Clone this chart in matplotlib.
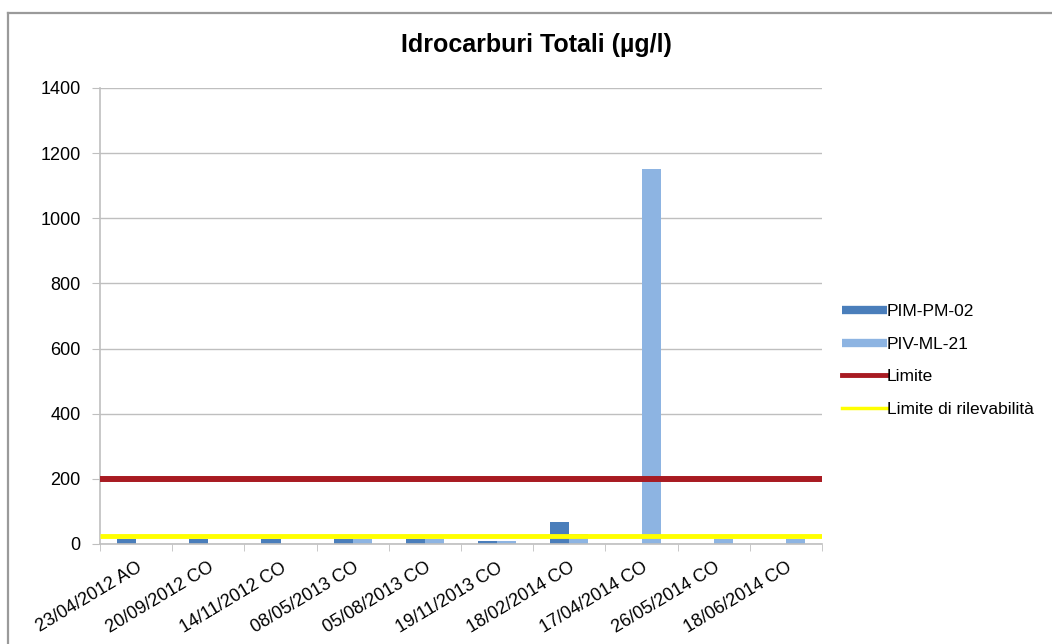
import numpy as np
import matplotlib
matplotlib.use("Agg")
import matplotlib.pyplot as plt
from matplotlib.lines import Line2D

plt.rcParams["font.family"] = ["Liberation Sans", "DejaVu Sans"]

# data
dates = ["23/04/2012 AO", "20/09/2012 CO", "14/11/2012 CO", "08/05/2013 CO",
         "05/08/2013 CO", "19/11/2013 CO", "18/02/2014 CO", "17/04/2014 CO",
         "26/05/2014 CO", "18/06/2014 CO"]
pim_pm_02 = [15, 15, 15, 15, 15, 8, 68, np.nan, np.nan, np.nan]
piv_ml_21 = [np.nan, np.nan, np.nan, 15, 15, 8, 30, 1150, 15, 15]
limite = 200
limite_rilev = 25

C_DARK = "#4A7EBB"
C_LIGHT = "#8DB4E2"
C_RED = "#A81B22"
C_YEL = "#FFFF00"
C_GRID = "#BFBFBF"

fig = plt.figure(figsize=(10.52, 6.44), dpi=100)
ax = fig.add_axes([100 / 1052, 1 - 544 / 644, 722 / 1052, 456 / 644])

x = np.arange(len(dates))
w = 0.265
ax.bar(x - w / 2, pim_pm_02, width=w, color=C_DARK, zorder=2)
ax.bar(x + w / 2, piv_ml_21, width=w, color=C_LIGHT, zorder=2)
ax.axhline(limite, color=C_RED, lw=4.3, zorder=3, solid_capstyle="butt")
ax.axhline(limite_rilev, color=C_YEL, lw=3.5, zorder=3, solid_capstyle="butt")

ax.set_xlim(-0.5, len(dates) - 0.5)
ax.set_ylim(0, 1400)
ax.set_yticks(np.arange(0, 1401, 200))
ax.yaxis.grid(True, color=C_GRID, lw=1)
ax.set_axisbelow(True)

for side in ["top", "right"]:
    ax.spines[side].set_visible(False)
for side in ["left", "bottom"]:
    ax.spines[side].set_color(C_GRID)
    ax.spines[side].set_linewidth(1.2)

ax.tick_params(axis="y", labelsize=13, length=6, color=C_GRID, pad=8)
ax.set_xticks(x)
ax.set_xticklabels(dates, rotation=31, ha="right", va="top",
                   rotation_mode="anchor", fontsize=13)
ax.tick_params(axis="x", which="major", length=0, pad=11)
ax.set_xticks(np.arange(-0.5, len(dates)), minor=True)
ax.tick_params(axis="x", which="minor", length=5, color=C_GRID)

fig.text(0.51, 1 - 52 / 644, "Idrocarburi Totali (µg/l)", ha="center",
         va="baseline", fontsize=18, fontweight="bold")

handles = [
    Line2D([], [], color=C_DARK, lw=6, solid_capstyle="butt"),
    Line2D([], [], color=C_LIGHT, lw=6, solid_capstyle="butt"),
    Line2D([], [], color=C_RED, lw=3.5),
    Line2D([], [], color=C_YEL, lw=2.5),
]
labels = ["PIM-PM-02", "PIV-ML-21", "Limite", "Limite di rilevabilità"]
fig.legend(handles, labels, loc="center left", bbox_to_anchor=(835 / 1052, 0.44),
           frameon=False, fontsize=12.5, handlelength=2.6, handletextpad=0.0,
           labelspacing=1.0, borderaxespad=0)

# outer chart border (top and left edges visible)
fig.add_artist(Line2D([8 / 1052, 1], [1 - 13 / 644, 1 - 13 / 644],
                      transform=fig.transFigure, color="#9A9A9A", lw=1.6))
fig.add_artist(Line2D([8 / 1052, 8 / 1052], [0, 1 - 13 / 644],
                      transform=fig.transFigure, color="#9A9A9A", lw=1.6))

fig.savefig("out.png", dpi=100, facecolor="white")
